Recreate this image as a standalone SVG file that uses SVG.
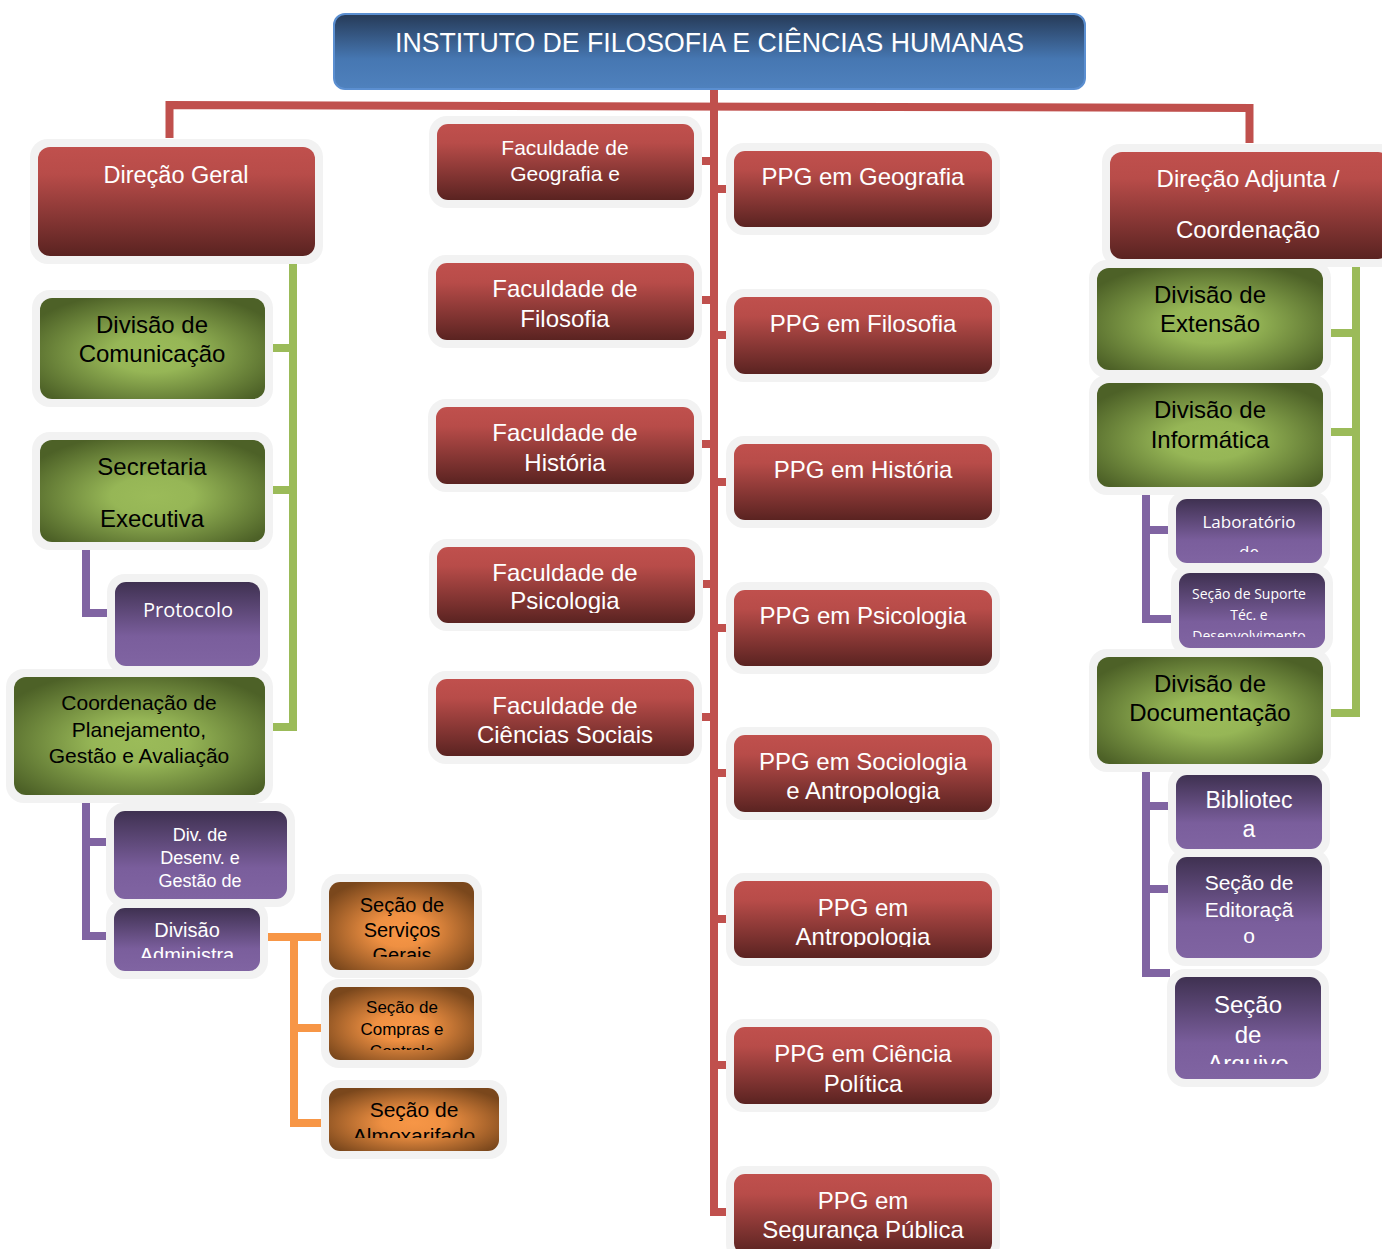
<svg xmlns="http://www.w3.org/2000/svg" width="1382" height="1249" viewBox="0 0 1382 1249">
<defs>
<linearGradient id="gRed" x1="0" y1="0" x2="0" y2="1"><stop offset="0" stop-color="#c0504d"/><stop offset="0.25" stop-color="#b84c49"/><stop offset="1" stop-color="#5a2321"/></linearGradient>
<linearGradient id="gBlue" x1="0" y1="0" x2="0" y2="1"><stop offset="0" stop-color="#263a57"/><stop offset="0.6" stop-color="#4677b2"/><stop offset="1" stop-color="#4f81bd"/></linearGradient>
<linearGradient id="gPur" x1="0" y1="0" x2="0" y2="1"><stop offset="0" stop-color="#3f3151"/><stop offset="0.65" stop-color="#7a5e9c"/><stop offset="1" stop-color="#8064a2"/></linearGradient>
<radialGradient id="gGrn" cx="0.5" cy="0.55" r="0.62"><stop offset="0" stop-color="#9bbb59"/><stop offset="0.3" stop-color="#96b656"/><stop offset="1" stop-color="#4d6127"/></radialGradient>
<radialGradient id="gOrg" cx="0.5" cy="0.55" r="0.62"><stop offset="0" stop-color="#f79646"/><stop offset="0.3" stop-color="#ef9042"/><stop offset="1" stop-color="#7a471c"/></radialGradient>
<clipPath id="cFacPsi" clipPathUnits="userSpaceOnUse"><rect x="437" y="547" width="258" height="66"/></clipPath>
<clipPath id="cPpgSoc" clipPathUnits="userSpaceOnUse"><rect x="734" y="735" width="258" height="68"/></clipPath>
<clipPath id="cPpgAnt" clipPathUnits="userSpaceOnUse"><rect x="734" y="881" width="258" height="66"/></clipPath>
<clipPath id="cPpgSP" clipPathUnits="userSpaceOnUse"><rect x="734" y="1174" width="258" height="67"/></clipPath>
<clipPath id="cDivAdm" clipPathUnits="userSpaceOnUse"><rect x="114" y="908" width="146" height="50"/></clipPath>
<clipPath id="cSecServ" clipPathUnits="userSpaceOnUse"><rect x="329" y="882" width="145" height="75"/></clipPath>
<clipPath id="cSecComp" clipPathUnits="userSpaceOnUse"><rect x="329" y="987" width="145" height="63"/></clipPath>
<clipPath id="cSecAlm" clipPathUnits="userSpaceOnUse"><rect x="329" y="1088" width="170" height="50"/></clipPath>
<clipPath id="cLab" clipPathUnits="userSpaceOnUse"><rect x="1176" y="499" width="146" height="53"/></clipPath>
<clipPath id="cSecSup" clipPathUnits="userSpaceOnUse"><rect x="1179" y="573" width="146" height="64"/></clipPath>
<clipPath id="cArq" clipPathUnits="userSpaceOnUse"><rect x="1175" y="977" width="146" height="87"/></clipPath>
</defs>
<style>
.frame{fill:#f2f2f2}
.red{fill:url(#gRed)}
.grn{fill:url(#gGrn)}
.pur{fill:url(#gPur)}
.org{fill:url(#gOrg)}
.tw{fill:#fff;font-family:"Liberation Sans",Arial,sans-serif;text-anchor:middle}
.tb{fill:#000;font-family:"Liberation Sans",Arial,sans-serif;text-anchor:middle}
.to{fill:#fff;font-family:"Open Sans","Noto Sans",sans-serif;text-anchor:middle}
.cr{fill:none;stroke:#c0504d;stroke-width:8}
.cg{fill:none;stroke:#9bbb59;stroke-width:8}
.cp{fill:none;stroke:#8064a2;stroke-width:8}
.co{fill:none;stroke:#f79646;stroke-width:8}
</style>
<rect width="1382" height="1249" fill="#fff"/>

<g id="connectors">
<path class="cr" d="M169.5 138 V105 L1249.5 108 V143"/>
<path class="cr" d="M714 89 V1212 H727"/>
<path class="cr" d="M701 161 H714 M701 300 H714 M701 444 H714 M701 584 H714 M701 717 H714"/>
<path class="cr" d="M714 189 H727 M714 335 H727 M714 482 H727 M714 628 H727 M714 773 H727 M714 919 H727 M714 1065 H727"/>
<path class="cg" d="M293 264 V727 H273 M273 348 H293 M273 490 H293"/>
<path class="cp" d="M86 550 V613 H107"/>
<path class="cp" d="M86 803 V936 H107 M86 842 H107"/>
<path class="co" d="M268 937 H321 M294 937 V1123 H321 M294 1028 H321"/>
<path class="cg" d="M1356 267 V713 H1331 M1331 333 H1356 M1331 432 H1356"/>
<path class="cp" d="M1146 495 V619 H1171 M1146 530 H1170"/>
<path class="cp" d="M1146 772 V973 H1170 M1146 806 H1170 M1146 889 H1170"/>
</g>

<g id="n-title">
<rect x="334" y="14" width="751" height="75" rx="11" fill="url(#gBlue)" stroke="#5b8fd1" stroke-width="2"/>
<text class="tw" x="709.5" y="52" font-size="28" textLength="629" lengthAdjust="spacingAndGlyphs">INSTITUTO DE FILOSOFIA E CIÊNCIAS HUMANAS</text>
</g>

<g id="n-dirGeral">
<rect class="frame" x="30" y="139" width="293" height="125" rx="18"/>
<rect class="red" x="38" y="147" width="277" height="109" rx="12"/>
<text class="tw" x="176" y="183" font-size="23.5">Direção Geral</text>
</g>

<g id="n-facGeo">
<rect class="frame" x="429" y="116" width="273" height="92" rx="18"/>
<rect class="red" x="437" y="124" width="257" height="76" rx="11"/>
<text class="tw" x="565" y="155" font-size="21">Faculdade de</text>
<text class="tw" x="565" y="181" font-size="21">Geografia e</text>
</g>
<g id="n-facFil">
<rect class="frame" x="428" y="255" width="274" height="93" rx="18"/>
<rect class="red" x="436" y="263" width="258" height="77" rx="11"/>
<text class="tw" x="565" y="297" font-size="24">Faculdade de</text>
<text class="tw" x="565" y="327" font-size="24">Filosofia</text>
</g>
<g id="n-facHis">
<rect class="frame" x="428" y="399" width="274" height="93" rx="18"/>
<rect class="red" x="436" y="407" width="258" height="77" rx="11"/>
<text class="tw" x="565" y="441" font-size="24">Faculdade de</text>
<text class="tw" x="565" y="471" font-size="24">História</text>
</g>
<g id="n-facPsi">
<rect class="frame" x="429" y="539" width="274" height="92" rx="18"/>
<rect class="red" x="437" y="547" width="258" height="76" rx="11"/>
<g clip-path="url(#cFacPsi)">
<text class="tw" x="565" y="581" font-size="24">Faculdade de</text>
<text class="tw" x="565" y="609" font-size="24">Psicologia</text>
</g>
</g>
<g id="n-facCS">
<rect class="frame" x="428" y="671" width="274" height="93" rx="18"/>
<rect class="red" x="436" y="679" width="258" height="77" rx="11"/>
<text class="tw" x="565" y="714" font-size="24">Faculdade de</text>
<text class="tw" x="565" y="743" font-size="24">Ciências Sociais</text>
</g>

<g id="n-ppgGeo">
<rect class="frame" x="726" y="143" width="274" height="92" rx="18"/>
<rect class="red" x="734" y="151" width="258" height="76" rx="11"/>
<text class="tw" x="863" y="185" font-size="24">PPG em Geografia</text>
</g>
<g id="n-ppgFil">
<rect class="frame" x="726" y="289" width="274" height="93" rx="18"/>
<rect class="red" x="734" y="297" width="258" height="77" rx="11"/>
<text class="tw" x="863" y="332" font-size="24">PPG em Filosofia</text>
</g>
<g id="n-ppgHis">
<rect class="frame" x="726" y="436" width="274" height="92" rx="18"/>
<rect class="red" x="734" y="444" width="258" height="76" rx="11"/>
<text class="tw" x="863" y="478" font-size="24">PPG em História</text>
</g>
<g id="n-ppgPsi">
<rect class="frame" x="726" y="582" width="274" height="92" rx="18"/>
<rect class="red" x="734" y="590" width="258" height="76" rx="11"/>
<text class="tw" x="863" y="624" font-size="24">PPG em Psicologia</text>
</g>
<g id="n-ppgSoc">
<rect class="frame" x="726" y="727" width="274" height="93" rx="18"/>
<rect class="red" x="734" y="735" width="258" height="77" rx="11"/>
<g clip-path="url(#cPpgSoc)">
<text class="tw" x="863" y="770" font-size="24">PPG em Sociologia</text>
<text class="tw" x="863" y="799" font-size="24">e Antropologia</text>
</g>
</g>
<g id="n-ppgAnt">
<rect class="frame" x="726" y="873" width="274" height="93" rx="18"/>
<rect class="red" x="734" y="881" width="258" height="77" rx="11"/>
<g clip-path="url(#cPpgAnt)">
<text class="tw" x="863" y="916" font-size="24">PPG em</text>
<text class="tw" x="863" y="945" font-size="24">Antropologia</text>
</g>
</g>
<g id="n-ppgCP">
<rect class="frame" x="726" y="1019" width="274" height="93" rx="18"/>
<rect class="red" x="734" y="1027" width="258" height="77" rx="11"/>
<text class="tw" x="863" y="1062" font-size="24">PPG em Ciência</text>
<text class="tw" x="863" y="1092" font-size="24">Política</text>
</g>
<g id="n-ppgSP">
<rect class="frame" x="726" y="1166" width="274" height="96" rx="18"/>
<rect class="red" x="734" y="1174" width="258" height="80" rx="11"/>
<g clip-path="url(#cPpgSP)">
<text class="tw" x="863" y="1209" font-size="24">PPG em</text>
<text class="tw" x="863" y="1238" font-size="24">Segurança Pública</text>
</g>
</g>

<g id="n-divCom">
<rect class="frame" x="32" y="290" width="241" height="117" rx="18"/>
<rect class="grn" x="40" y="298" width="225" height="101" rx="12"/>
<text class="tb" x="152" y="333" font-size="24">Divisão de</text>
<text class="tb" x="152" y="362" font-size="24">Comunicação</text>
</g>
<g id="n-secExec">
<rect class="frame" x="32" y="432" width="241" height="118" rx="18"/>
<rect class="grn" x="40" y="440" width="225" height="102" rx="12"/>
<text class="tb" x="152" y="475" font-size="24">Secretaria</text>
<text class="tb" x="152" y="527" font-size="24">Executiva</text>
</g>
<g id="n-protocolo">
<rect class="frame" x="107" y="574" width="161" height="100" rx="18"/>
<rect class="pur" x="115" y="582" width="145" height="84" rx="11"/>
<text class="to" x="188" y="617" font-size="20">Protocolo</text>
</g>
<g id="n-coord">
<rect class="frame" x="6" y="669" width="267" height="134" rx="18"/>
<rect class="grn" x="14" y="677" width="251" height="118" rx="12"/>
<text class="tb" x="139" y="710" font-size="21">Coordenação de</text>
<text class="tb" x="139" y="737" font-size="21">Planejamento,</text>
<text class="tb" x="139" y="763" font-size="21">Gestão e Avaliação</text>
</g>
<g id="n-divDesenv">
<rect class="frame" x="106" y="803" width="189" height="104" rx="18"/>
<rect class="pur" x="114" y="811" width="173" height="88" rx="11"/>
<text class="tw" x="200" y="841" font-size="18">Div. de</text>
<text class="tw" x="200" y="864" font-size="18">Desenv. e</text>
<text class="tw" x="200" y="887" font-size="18">Gestão de</text>
</g>
<g id="n-divAdm">
<rect class="frame" x="106" y="900" width="162" height="79" rx="18"/>
<rect class="pur" x="114" y="908" width="146" height="63" rx="11"/>
<g clip-path="url(#cDivAdm)">
<text class="tw" x="187" y="937" font-size="20">Divisão</text>
<text class="tw" x="187" y="962" font-size="20">Administra</text>
</g>
</g>
<g id="n-secServ">
<rect class="frame" x="321" y="874" width="161" height="104" rx="18"/>
<rect class="org" x="329" y="882" width="145" height="88" rx="11"/>
<g clip-path="url(#cSecServ)">
<text class="tb" x="402" y="912" font-size="20">Seção de</text>
<text class="tb" x="402" y="937" font-size="20">Serviços</text>
<text class="tb" x="402" y="962" font-size="20">Gerais</text>
</g>
</g>
<g id="n-secCompras">
<rect class="frame" x="321" y="979" width="161" height="89" rx="18"/>
<rect class="org" x="329" y="987" width="145" height="73" rx="11"/>
<g clip-path="url(#cSecComp)">
<text class="tb" x="402" y="1013" font-size="17">Seção de</text>
<text class="tb" x="402" y="1035" font-size="17">Compras e</text>
<text class="tb" x="402" y="1057" font-size="17">Controle</text>
</g>
</g>
<g id="n-secAlmox">
<rect class="frame" x="321" y="1080" width="186" height="79" rx="18"/>
<rect class="org" x="329" y="1088" width="170" height="63" rx="11"/>
<g clip-path="url(#cSecAlm)">
<text class="tb" x="414" y="1117" font-size="21">Seção de</text>
<text class="tb" x="414" y="1143" font-size="21">Almoxarifado</text>
</g>
</g>

<g id="n-divExt">
<rect class="frame" x="1089" y="260" width="242" height="118" rx="18"/>
<rect class="grn" x="1097" y="268" width="226" height="102" rx="12"/>
<text class="tb" x="1210" y="303" font-size="24">Divisão de</text>
<text class="tb" x="1210" y="332" font-size="24">Extensão</text>
</g>
<g id="n-dirAdj">
<rect class="frame" x="1102" y="144" width="296" height="123" rx="18"/>
<rect class="red" x="1110" y="152" width="280" height="107" rx="12"/>
<text class="tw" x="1248" y="187" font-size="24">Direção Adjunta /</text>
<text class="tw" x="1248" y="238" font-size="24">Coordenação</text>
</g>
<g id="n-divInf">
<rect class="frame" x="1089" y="375" width="242" height="120" rx="18"/>
<rect class="grn" x="1097" y="383" width="226" height="104" rx="12"/>
<text class="tb" x="1210" y="418" font-size="24">Divisão de</text>
<text class="tb" x="1210" y="448" font-size="24">Informática</text>
</g>
<g id="n-lab">
<rect class="frame" x="1168" y="491" width="162" height="80" rx="18"/>
<rect class="pur" x="1176" y="499" width="146" height="64" rx="11"/>
<g clip-path="url(#cLab)">
<text class="to" x="1249" y="528" font-size="17">Laboratório</text>
<text class="to" x="1249" y="558" font-size="17">de</text>
</g>
</g>
<g id="n-secSup">
<rect class="frame" x="1171" y="565" width="162" height="91" rx="18"/>
<rect class="pur" x="1179" y="573" width="146" height="75" rx="11"/>
<g clip-path="url(#cSecSup)">
<text class="to" x="1249" y="599" font-size="14">Seção de Suporte</text>
<text class="to" x="1249" y="620" font-size="14">Téc. e</text>
<text class="to" x="1249" y="641" font-size="14">Desenvolvimento</text>
</g>
</g>
<g id="n-divDoc">
<rect class="frame" x="1089" y="649" width="242" height="123" rx="18"/>
<rect class="grn" x="1097" y="657" width="226" height="107" rx="12"/>
<text class="tb" x="1210" y="692" font-size="24">Divisão de</text>
<text class="tb" x="1210" y="721" font-size="24">Documentação</text>
</g>
<g id="n-biblio">
<rect class="frame" x="1168" y="767" width="162" height="90" rx="18"/>
<rect class="pur" x="1176" y="775" width="146" height="74" rx="11"/>
<text class="tw" x="1249" y="808" font-size="23">Bibliotec</text>
<text class="tw" x="1249" y="837" font-size="23">a</text>
</g>
<g id="n-editor">
<rect class="frame" x="1168" y="849" width="162" height="117" rx="18"/>
<rect class="pur" x="1176" y="857" width="146" height="101" rx="11"/>
<text class="tw" x="1249" y="890" font-size="21">Seção de</text>
<text class="tw" x="1249" y="917" font-size="21">Editoraçã</text>
<text class="tw" x="1249" y="943" font-size="21">o</text>
</g>
<g id="n-arquivo">
<rect class="frame" x="1167" y="969" width="162" height="118" rx="18"/>
<rect class="pur" x="1175" y="977" width="146" height="102" rx="11"/>
<g clip-path="url(#cArq)">
<text class="tw" x="1248" y="1013" font-size="24">Seção</text>
<text class="tw" x="1248" y="1043" font-size="24">de</text>
<text class="tw" x="1248" y="1072" font-size="24">Arquivo</text>
</g>
</g>
</svg>
